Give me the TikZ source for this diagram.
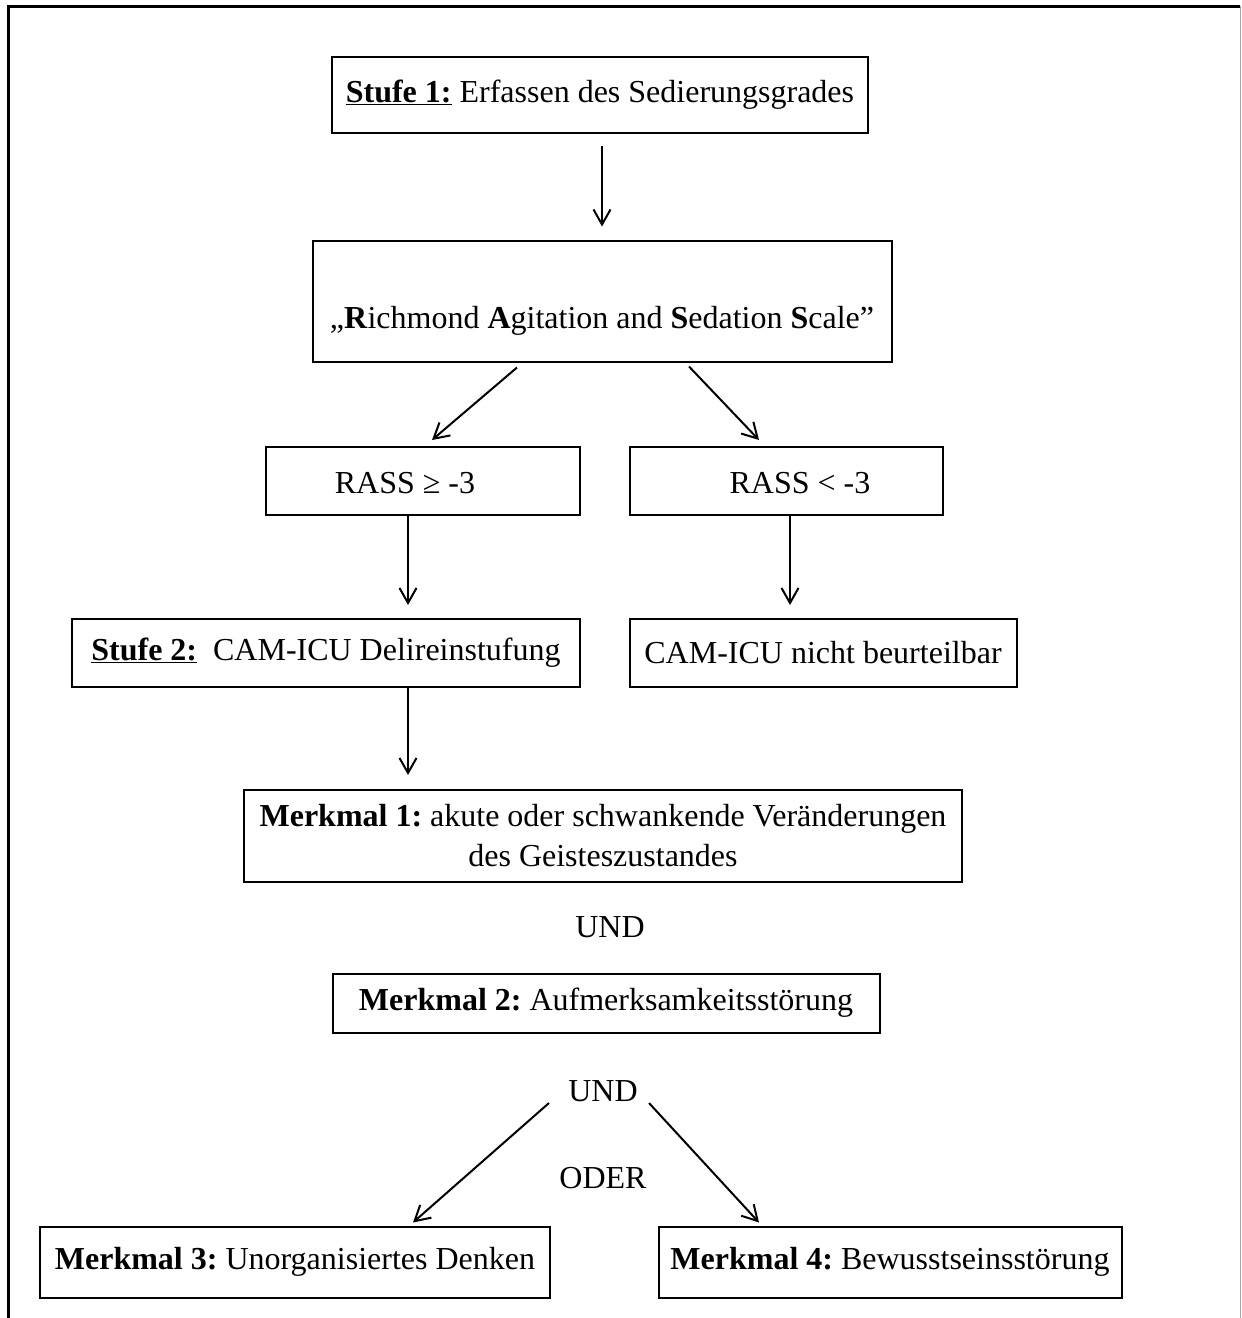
\documentclass[tikz,border=0pt]{standalone}
\usepackage{fontspec}
\setmainfont{Liberation Serif}
\usetikzlibrary{arrows.meta}

\begin{document}
\begin{tikzpicture}[x=1pt, y=-1pt, line width=2pt, every node/.style={font=\fontsize{32}{40}\selectfont}]
    \tikzstyle{box}=[draw, rectangle, line width=2pt, inner sep=0pt]  % plain rectangles
    \tikzstyle{word}=[inner sep=2pt]
    \tikzstyle{arr}=[-{Straight Barb[length=15pt, width=17pt, line width=2pt]}]

    \useasboundingbox (0,0) rectangle (1242,1318);

    % Outer frame
    \draw[line width=3pt] (8,1318) -- (8,6) -- (1240,6);
    \draw[line width=1pt, black!35] (1240,6) -- (1240,1318);

    % Stufe 1
    \node[box, minimum width=536pt, minimum height=76pt] (stufeA) at (600,95) {\textbf{\underline{Stufe 1:}} Erfassen des Sedierungsgrades};

    % RASS
    \node[box, minimum width=579pt, minimum height=121pt] (rass) at (602,301) {};
    \node[word] (rassText) at (602,321) {„\textbf{R}ichmond \textbf{A}gitation and \textbf{S}edation \textbf{S}cale”};

    \node[box, minimum width=314pt, minimum height=68pt] (rassHi) at (423,481) {};
    \node[word] (rassHiText) at (405,483) {RASS ≥ -3};
    \node[box, minimum width=313pt, minimum height=68pt] (rassLo) at (786,481) {};
    \node[word] (rassLoText) at (800,483) {RASS < -3};

    % Stufe 2
    \node[box, minimum width=508pt, minimum height=68pt] (stufeB) at (326,653) {\textbf{\underline{Stufe 2:}}\ \ CAM-ICU Delireinstufung};
    \node[box, minimum width=387pt, minimum height=68pt] (nicht) at (823,653) {CAM-ICU nicht beurteilbar};

    % Merkmale
    \node[box, minimum width=718pt, minimum height=92pt, align=center] (merkA) at (603,836) {\textbf{Merkmal 1:}~akute oder schwankende Veränderungen\\des Geisteszustandes};
    \node[word] (undA) at (610,927) {UND};
    \node[box, minimum width=547pt, minimum height=59pt] (merkB) at (606,1003) {\textbf{Merkmal 2:}~Aufmerksamkeitsstörung};
    \node[word] (undB) at (603,1091) {UND};
    \node[word] (oder) at (603,1178) {ODER};
    \node[box, minimum width=510pt, minimum height=71pt] (merkC) at (295,1262) {\textbf{Merkmal 3:}~Unorganisiertes Denken};
    \node[box, minimum width=463pt, minimum height=71pt] (merkD) at (890,1262) {\textbf{Merkmal 4:}~Bewusstseinsstörung};

    % Arrows
    \draw[arr, shorten <=12pt, shorten >=13pt] (stufeA.south -| rass.north) -- (rass.north);
    \draw[arr] ([xshift=-85pt, yshift=-5pt]rass.south) -- ([xshift=9pt, yshift=6pt]rassHi.north);
    \draw[arr] ([xshift=87pt, yshift=-4pt]rass.south) -- ([xshift=-27pt, yshift=6pt]rassLo.north);
    \draw[arr, shorten >=13pt] ([xshift=-15pt]rassHi.south) -- ([xshift=-15pt]rassHi.south |- stufeB.north);
    \draw[arr, shorten >=13pt] ([xshift=4pt]rassLo.south) -- ([xshift=4pt]rassLo.south |- nicht.north);
    \draw[arr, shorten >=14pt] ([xshift=82pt]stufeB.south) -- ([xshift=82pt]stufeB.south |- merkA.north);
    \draw[arr] ([xshift=-54pt, yshift=-12pt]undB.center) -- ([xshift=118pt, yshift=3pt]merkC.north);
    \draw[arr] ([xshift=46pt, yshift=-12pt]undB.center) -- ([xshift=-131pt, yshift=3pt]merkD.north);

\end{tikzpicture}
\end{document}
